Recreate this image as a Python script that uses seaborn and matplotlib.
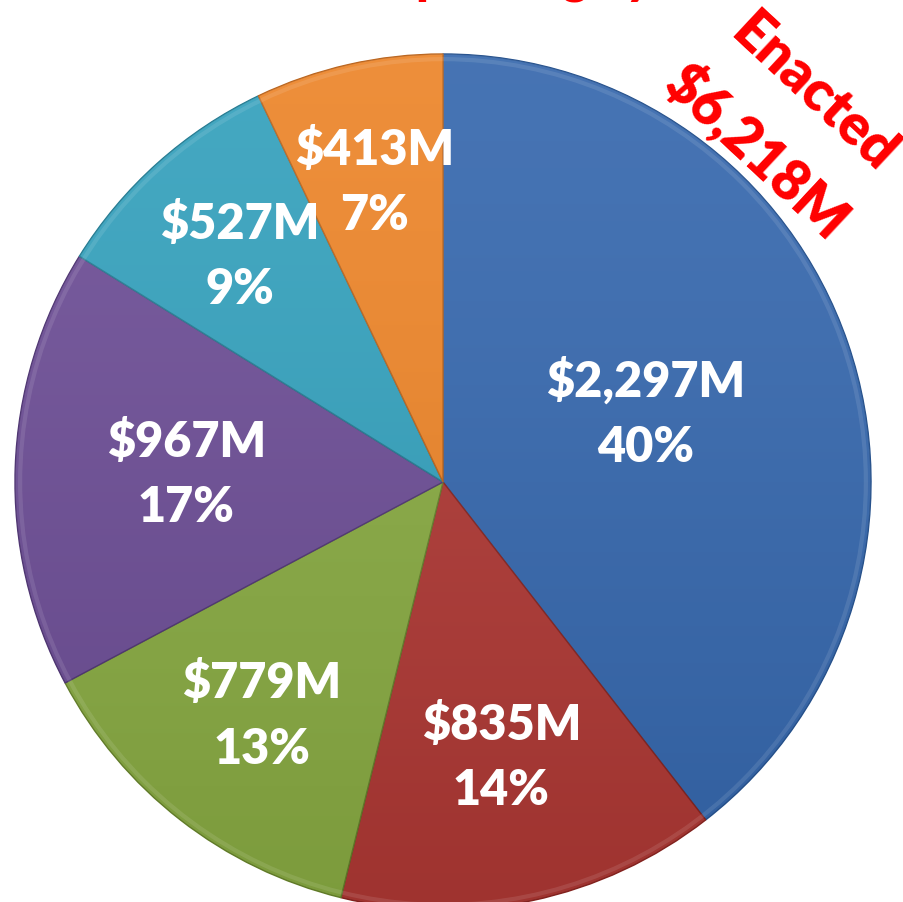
import numpy as np
import matplotlib
matplotlib.use("Agg")
import matplotlib.pyplot as plt
import seaborn as sns
from matplotlib.patches import Circle

# ------------------------------------------------------------------
# Data
# ------------------------------------------------------------------
amounts = [2297, 835, 779, 967, 527, 413]          # $M, clockwise from 12 o'clock
amount_labels = ["$2,297M", "$835M", "$779M", "$967M", "$527M", "$413M"]
pct_labels = ["40%", "14%", "13%", "17%", "9%", "7%"]
enacted_label = ["Enacted", "$6,218M"]

sns.set_theme(style="white")
plt.rcParams["font.family"] = ["Lato", "DejaVu Sans"]

COLORS = sns.color_palette(["#3567AD", "#AE3834", "#88AA42", "#6C4D95", "#33A0BC", "#EC8428"])
EDGES = ["#24508C", "#86231F", "#647F2A", "#4E3472", "#217A91", "#B9621A"]
LABEL_R = [0.50, 0.655, 0.69, 0.60, 0.71, 0.72]   # label distance from centre (radius = 1)

W, H = 904, 903
CX, CY, R = 443, 483, 428   # pie centre / radius in pixels

fig = plt.figure(figsize=(W / 100, H / 100), dpi=100)
ax = fig.add_axes([0, 0, 1, 1])

wedges, _ = ax.pie(amounts, startangle=90, counterclock=False, colors=COLORS,
                   wedgeprops=dict(linewidth=1.0))
for w, ec in zip(wedges, EDGES):
    w.set_edgecolor(ec)

ax.set_aspect("auto")
ax.set_xlim(-CX / R, (W - CX) / R)
ax.set_ylim(-(H - CY) / R, CY / R)
ax.axis("off")

# soft top-light / bottom-dark shading clipped to the pie
grad = np.linspace(1, 0, 256).reshape(-1, 1)
shade = ax.imshow(grad, cmap="Greys_r", extent=(-1, 1, -1, 1), alpha=0.09,
                  aspect="auto", zorder=3, vmin=0, vmax=1)
clip = Circle((0, 0), 1.0, transform=ax.transData)
shade.set_clip_path(clip)
# faint bevel ring around the rim
ax.add_patch(Circle((0, 0), 0.988, fill=False, lw=3, ec="white", alpha=0.10, zorder=4))

for w, amt, pct, r in zip(wedges, amount_labels, pct_labels, LABEL_R):
    mid = np.deg2rad((w.theta1 + w.theta2) / 2)
    ax.text(r * np.cos(mid), r * np.sin(mid), f"{amt}\n{pct}", ha="center", va="center",
            color="white", fontsize=35, fontweight="heavy", linespacing=1.55, zorder=5)

# red annotation (arced around the pie in the original)
fig.text(814 / W, 1 - 93 / H, enacted_label[0], color="#FF0000", fontsize=40,
         fontweight="heavy", rotation=-43, ha="center", va="center", rotation_mode="anchor")
fig.text(758 / W, 1 - 151 / H, enacted_label[1], color="#FF0000", fontsize=40,
         fontweight="heavy", rotation=-43, ha="center", va="center", rotation_mode="anchor")
# title line cut off at the top edge (only descenders visible)
fig.text(390 / W, 1 + 7 / H, "Spending by", color="#FF0000", fontsize=34,
         fontweight="heavy", ha="left", va="baseline")

fig.savefig("out.png", dpi=100)
